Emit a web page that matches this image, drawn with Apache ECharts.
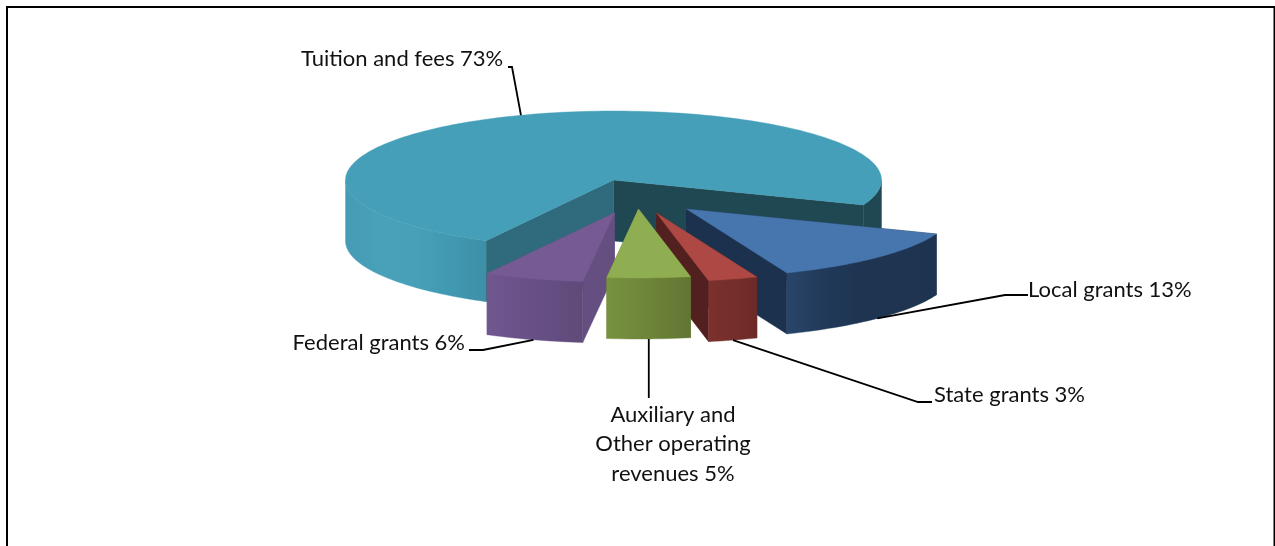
<!DOCTYPE html>
<html>
<head>
<meta charset="utf-8">
<style>html,body{margin:0;padding:0;background:#fff}#chart{width:1275px;height:546px}</style>
<script src="https://cdn.jsdelivr.net/npm/echarts@6/dist/echarts.min.js"></script>
</head>
<body>
<div id="chart"></div>
<script>
// Revenue sources, percent of total
const categories = ['Tuition and fees', 'Local grants', 'State grants', 'Auxiliary and\nOther operating\nrevenues', 'Federal grants'];
const shares = [73, 13, 3, 5, 6];

// Projection of the tilted disc
const disc = { cx: 613.5, cy: 180, rx: 268, ry: 69, depth: 61, startAngle: 118.4 };
// How far each wedge is pulled out of the disc
const explosion = [[0, 0], [73, 29], [43, 33], [25, 29], [1, 33]];
// Back-to-front painting order of the wedges
const paintOrder = [0, 1, 2, 4, 3];

const grad = stops => ({
  type: 'linear', x: 0, y: 0, x2: 1, y2: 0,
  colorStops: stops.map((c, i) => ({ offset: i / (stops.length - 1), color: c }))
});

const palette = [
  { top: '#459fb9', startWall: '#2f6b7c', endWall: '#1f4852',
    rim: grad(['#459bb3', '#48a1b9', '#47a0b8', '#4199b1', '#3d8fa6']), darkRim: '#1f4852' },
  { top: '#4776ae', startWall: '#1b314e', endWall: '#1b314e',
    rim: grad(['#28466a', '#21395a', '#1e3451', '#1e3450', '#1e3350']) },
  { top: '#ae4844', startWall: '#52201f', endWall: '#52201f',
    rim: grad(['#7b312e', '#772f2c', '#732d2a', '#6c2a27']) },
  { top: '#8fae52', startWall: '#64792f', endWall: '#64792f',
    rim: grad(['#77923f', '#71893c', '#697f36', '#627634']) },
  { top: '#765a94', startWall: '#654f80', endWall: '#654f80',
    rim: grad(['#70578f', '#6a5289', '#654e82', '#5f4a78']) }
];

// Label placement and the bends of the leader lines
const labelText = [
  { x: 301, y: 59, align: 'left' },
  { x: 1028, y: 290, align: 'left' },
  { x: 934, y: 395, align: 'left' },
  { x: 673, y: 444, align: 'center' },
  { x: 465, y: 343, align: 'right' }
];
const leaderBends = [
  [[508, 67], [512, 67]],
  [[1028, 295], [1005, 295]],
  [[932, 402], [918, 402]],
  [[648.8, 398]],
  [[469, 350], [483, 350]]
];

const total = shares.reduce((a, b) => a + b, 0);
const rad = d => d * Math.PI / 180;
const spans = [];
shares.reduce((from, v) => {
  const to = from + v / total * 360;
  spans.push([from, to]);
  return to;
}, disc.startAngle);

function rimPoint(ox, oy, deg) {
  return [ox + disc.rx * Math.cos(rad(deg)), oy + disc.ry * Math.sin(rad(deg))];
}
function arc(ox, oy, a, b) {
  const n = Math.max(2, Math.ceil(Math.abs(b - a) / 1.5));
  const pts = [];
  for (let i = 0; i <= n; i++) pts.push(rimPoint(ox, oy, a + (b - a) * i / n));
  return pts;
}
const drop = pts => pts.map(p => [p[0], p[1] + disc.depth]);
const poly = (points, fill) => ({
  type: 'polygon', shape: { points }, style: { fill, stroke: fill, lineWidth: 0.4 }
});

// The stretches of an arc that face the viewer, sin(angle) > 0
function frontSpans(a, b) {
  const out = [];
  for (let k = 0; k < 3; k++) {
    const lo = Math.max(a, k * 360), hi = Math.min(b, k * 360 + 180);
    if (hi > lo) out.push([lo, hi]);
  }
  return out;
}

function renderWedge(params) {
  const idx = paintOrder[params.dataIndex];
  const [a, b] = spans[idx];
  const style = palette[idx];
  const ox = disc.cx + explosion[idx][0];
  const oy = disc.cy + explosion[idx][1];
  const apex = [ox, oy];
  const startEdge = rimPoint(ox, oy, a);
  const endEdge = rimPoint(ox, oy, b);
  const wall = (p, fill) => poly([apex, p, [p[0], p[1] + disc.depth], [ox, oy + disc.depth]], fill);

  const children = [wall(endEdge, style.endWall), wall(startEdge, style.startWall)];
  frontSpans(a, b).forEach(([lo, hi]) => {
    const top = arc(ox, oy, lo, hi);
    const fill = style.darkRim && lo >= 360 ? style.darkRim : style.rim;
    children.push(poly(top.concat(drop(top).reverse()), fill));
  });
  children.push(poly([apex].concat(arc(ox, oy, a, b)), style.top));
  return { type: 'group', children };
}

function renderLabel(params) {
  const idx = paintOrder[params.dataIndex];
  const [a, b] = spans[idx];
  const mid = (a + b) / 2;
  const ox = disc.cx + explosion[idx][0];
  const oy = disc.cy + explosion[idx][1];
  const anchor = rimPoint(ox, oy, mid);
  if (Math.sin(rad(mid)) > 0) anchor[1] += disc.depth;
  const pos = labelText[idx];
  return {
    type: 'group',
    children: [
      { type: 'polyline', shape: { points: leaderBends[idx].concat([anchor]) },
        style: { fill: 'none', stroke: '#000', lineWidth: 1.8 } },
      { type: 'text', x: pos.x, y: pos.y,
        style: { text: categories[idx] + ' ' + shares[idx] + '%', fill: '#111',
          font: '22px Lato', lineHeight: 29.5, align: pos.align, verticalAlign: 'middle' } }
    ]
  };
}

const chart = echarts.init(document.getElementById('chart'), null, { renderer: 'canvas' });
const rows = paintOrder.map(i => [i, shares[i]]);
chart.setOption({
  animation: false,
  backgroundColor: '#fff',
  graphic: [{
    type: 'polyline', silent: true,
    shape: { points: [[7, 546], [7, 7], [1274.5, 7], [1274.5, 546]] },
    style: { fill: 'none', stroke: '#000', lineWidth: 2 }
  }],
  series: [
    { type: 'custom', coordinateSystem: 'none', silent: true, data: rows, renderItem: renderWedge, z: 2 },
    { type: 'custom', coordinateSystem: 'none', silent: true, data: rows, renderItem: renderLabel, z: 3 }
  ]
});
</script>
</body>
</html>
